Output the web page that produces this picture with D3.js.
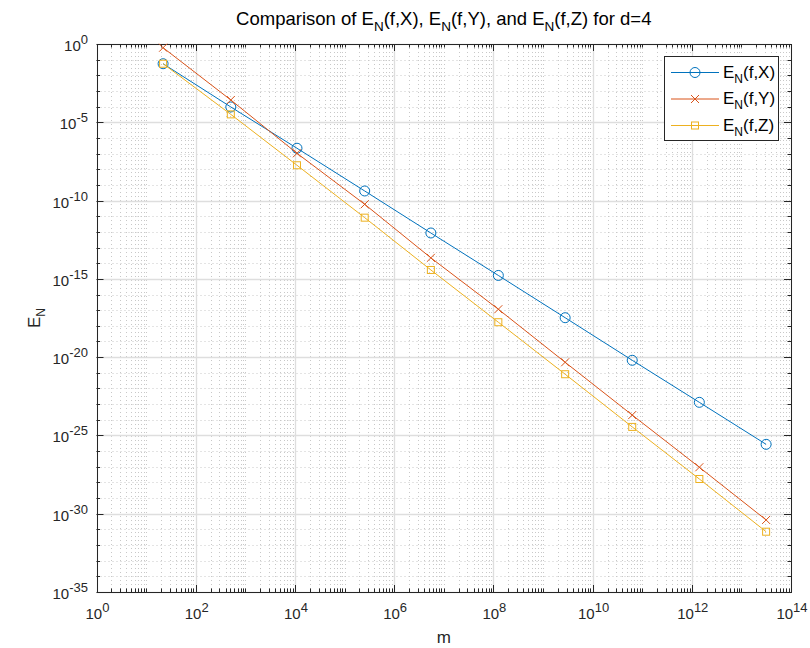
<!DOCTYPE html>
<html>
<head>
<meta charset="utf-8">
<script src="https://cdn.jsdelivr.net/npm/d3@7/dist/d3.min.js"></script>
<style>
  html, body { margin: 0; padding: 0; background: #fff; }
  svg { display: block; font-family: "Liberation Sans", Arial, Helvetica, sans-serif; }
</style>
</head>
<body>
<svg id="chart" width="810" height="648"></svg>
<script>
// Number of samples m for each refinement level
const mValues = [22, 510, 1.1e4, 2.55e5, 5.5e6, 1.26e8, 2.8e9, 6.3e10, 1.42e12, 3.15e13];

// Error series
const errX = [0.055, 9.5e-5, 2.2e-7, 4.1e-10, 8.5e-13, 1.65e-15, 3.3e-18, 6.3e-21, 1.3e-23, 2.7e-26];
const errY = [0.58, 2.65e-4, 1.05e-7, 5.8e-11, 2.2e-14, 1.15e-17, 4.7e-21, 2.0e-24, 9.3e-28, 4.0e-31];
const errZ = [0.055, 3.2e-5, 1.8e-8, 8.1e-12, 3.7e-15, 1.7e-18, 8.1e-22, 3.5e-25, 1.65e-28, 7.1e-32];

const seriesNames = ["X", "Y", "Z"];

// Tick exponents
const xTickExps = [0, 2, 4, 6, 8, 10, 12, 14];
const yTickExps = [-35, -30, -25, -20, -15, -10, -5, 0];

const svg = d3.select("#chart");
const L = 96.5, R = 791, T = 44, B = 592;

const x = d3.scaleLog().domain([1, 1e14]).range([L, R]);
const y = d3.scaleLog().domain([1e-35, 1]).range([B, T]);

const axisColor = "#262626";
const colors = ["#0072BD", "#D95319", "#EDB120"];
const markers = ["circle", "cross", "square"];

// Minor tick positions
const xMinor = [];
for (let e = 0; e < 14; e++) {
  for (let k = 1; k <= 9; k++) {
    const v = k * Math.pow(10, e);
    if (!(k === 1 && e % 2 === 0)) xMinor.push(v);
  }
}
const yMinor = [];
for (let e = -35; e <= 0; e++) if (e % 5 !== 0) yMinor.push(Math.pow(10, e));

const xMajor = xTickExps.map(e => Math.pow(10, e));
const yMajor = yTickExps.map(e => Math.pow(10, e));

const px = v => Math.round(x(v)) + 0.5;
const py = v => Math.round(y(v)) + 0.5;

// Grid
const grid = svg.append("g");
grid.selectAll("line.xmin").data(xMinor).enter().append("line")
  .attr("x1", px).attr("x2", px).attr("y1", T).attr("y2", B)
  .attr("stroke", "#c8c8c8").attr("stroke-width", 1).attr("stroke-dasharray", "1,3");
grid.selectAll("line.ymin").data(yMinor).enter().append("line")
  .attr("y1", py).attr("y2", py).attr("x1", L).attr("x2", R)
  .attr("stroke", "#c8c8c8").attr("stroke-width", 1).attr("stroke-dasharray", "1,3");
grid.selectAll("line.xmaj").data(xMajor).enter().append("line")
  .attr("x1", px).attr("x2", px).attr("y1", T).attr("y2", B)
  .attr("stroke", "#dedede").attr("stroke-width", 1.3);
grid.selectAll("line.ymaj").data(yMajor).enter().append("line")
  .attr("y1", py).attr("y2", py).attr("x1", L).attr("x2", R)
  .attr("stroke", "#dedede").attr("stroke-width", 1.3);

// Axes with inward ticks on all four sides
const axes = svg.append("g").attr("stroke", axisColor).attr("stroke-width", 1);
const majLen = 7, minLen = 3.5;
[[xMajor, majLen], [xMinor, minLen]].forEach(([vals, len]) => {
  axes.selectAll(null).data(vals).enter().append("line")
    .attr("x1", px).attr("x2", px).attr("y1", B).attr("y2", B - len);
  axes.selectAll(null).data(vals).enter().append("line")
    .attr("x1", px).attr("x2", px).attr("y1", T).attr("y2", T + len);
});
[[yMajor, majLen], [yMinor, minLen]].forEach(([vals, len]) => {
  axes.selectAll(null).data(vals).enter().append("line")
    .attr("y1", py).attr("y2", py).attr("x1", L).attr("x2", L + len);
  axes.selectAll(null).data(vals).enter().append("line")
    .attr("y1", py).attr("y2", py).attr("x1", R).attr("x2", R - len);
});
svg.append("rect").attr("x", Math.round(L) + 0.5).attr("y", T + 0.5)
  .attr("width", Math.round(R) - Math.round(L)).attr("height", B - T)
  .attr("fill", "none").attr("stroke", axisColor).attr("stroke-width", 1);

// Tick labels: 10 with a raised exponent
function powLabel(g, exp) {
  g.append("tspan").text("10");
  g.append("tspan").attr("dy", -7).attr("font-size", 13).text(String(exp));
}
xTickExps.forEach(e => {
  const t = svg.append("text").attr("x", x(Math.pow(10, e)) + 1).attr("y", 619)
    .attr("text-anchor", "middle").attr("font-size", 15).attr("fill", axisColor);
  powLabel(t, e);
});
yTickExps.forEach(e => {
  const t = svg.append("text").attr("x", 88).attr("y", y(Math.pow(10, e)) + 7)
    .attr("text-anchor", "end").attr("font-size", 15).attr("fill", axisColor);
  powLabel(t, e);
});

// Axis titles
svg.append("text").attr("x", (L + R) / 2).attr("y", 643).attr("text-anchor", "middle")
  .attr("font-size", 17).attr("fill", axisColor).text("m");
const yl = svg.append("text").attr("transform", `translate(40,${(T + B) / 2}) rotate(-90)`)
  .attr("text-anchor", "middle").attr("font-size", 17).attr("fill", axisColor);
yl.append("tspan").text("E");
yl.append("tspan").attr("dy", 5).attr("font-size", 12).text("N");

// Title
const title = svg.append("text").attr("x", (L + R) / 2).attr("y", 25)
  .attr("text-anchor", "middle").attr("font-size", 18.5).attr("fill", "#000");
title.append("tspan").text("Comparison of E");
title.append("tspan").attr("dy", 6).attr("font-size", 13.5).text("N");
title.append("tspan").attr("dy", -6).text("(f,X), E");
title.append("tspan").attr("dy", 6).attr("font-size", 13.5).text("N");
title.append("tspan").attr("dy", -6).text("(f,Y), and E");
title.append("tspan").attr("dy", 6).attr("font-size", 13.5).text("N");
title.append("tspan").attr("dy", -6).text("(f,Z) for d=4");

// Markers
function drawMarker(g, type, cx, cy, color) {
  if (type === "circle") {
    g.append("circle").attr("cx", cx).attr("cy", cy).attr("r", 5)
      .attr("fill", "none").attr("stroke", color).attr("stroke-width", 1);
  } else if (type === "cross") {
    const s = 4;
    g.append("path").attr("d", `M${cx - s},${cy - s}L${cx + s},${cy + s}M${cx - s},${cy + s}L${cx + s},${cy - s}`)
      .attr("stroke", color).attr("stroke-width", 1).attr("fill", "none");
  } else {
    const s = 3.5;
    g.append("rect").attr("x", cx - s).attr("y", cy - s).attr("width", 2 * s).attr("height", 2 * s)
      .attr("fill", "none").attr("stroke", color).attr("stroke-width", 1);
  }
}

// Series
const allSeries = [errX, errY, errZ];
const line = d3.line().x(d => x(d[0])).y(d => y(d[1]));
const plot = svg.append("g");
allSeries.forEach((vals, i) => {
  const pts = mValues.map((m, j) => [m, vals[j]]);
  plot.append("path").datum(pts).attr("d", line)
    .attr("fill", "none").attr("stroke", colors[i]).attr("stroke-width", 1);
  pts.forEach(p => drawMarker(plot, markers[i], x(p[0]), y(p[1]), colors[i]));
});

// Legend
const lg = svg.append("g");
lg.append("rect").attr("x", 664.5).attr("y", 56.5).attr("width", 114).attr("height", 84)
  .attr("fill", "#fff").attr("stroke", axisColor).attr("stroke-width", 1);
seriesNames.forEach((nm, i) => {
  const ly = 72.5 + i * 26.5;
  lg.append("line").attr("x1", 671).attr("x2", 719).attr("y1", ly).attr("y2", ly)
    .attr("stroke", colors[i]).attr("stroke-width", 1);
  drawMarker(lg, markers[i], 695, ly, colors[i]);
  const t = lg.append("text").attr("x", 723).attr("y", ly + 5).attr("font-size", 17).attr("fill", "#000");
  t.append("tspan").text("E");
  t.append("tspan").attr("dy", 5).attr("font-size", 12).text("N");
  t.append("tspan").attr("dy", -5).text(`(f,${nm})`);
});
</script>
</body>
</html>
